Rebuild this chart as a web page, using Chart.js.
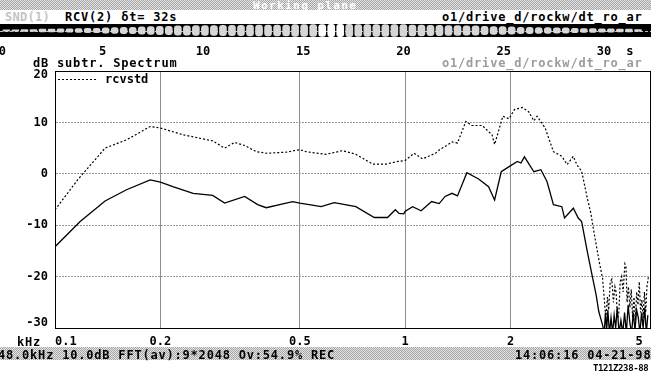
<!DOCTYPE html>
<html>
<head>
<meta charset="utf-8">
<script src="https://cdn.jsdelivr.net/npm/chart.js@4.4.1/dist/chart.umd.min.js"></script>
<style>
  html, body { margin: 0; padding: 0; background: #fff; }
  #page { position: relative; width: 651px; height: 374px; overflow: hidden; }
  canvas { position: absolute; left: 0; }
  .txt {
    position: absolute;
    font: bold 12px "DejaVu Sans Mono", monospace;
    line-height: 12px;
    letter-spacing: 0.8px;
    white-space: pre;
    color: #000;
  }
  .dither {
    position: absolute;
    left: 0;
    width: 651px;
    background: repeating-conic-gradient(#a4a4a4 0 25%, #e6e6e6 0 50%) 0 0 / 2px 2px;
  }
</style>
</head>
<body>
<div id="page">
  <div class="dither" style="top:0;height:10px"></div>
  <div class="txt" style="left:253px;top:0;font-size:11px;line-height:11px;letter-spacing:1.4px;color:#fff">Working plane</div>

  <div class="txt" style="left:5px;top:11px;color:#c4c4c4;letter-spacing:0.3px">SND(1)</div>
  <div class="txt" style="left:65px;top:11px">RCV(2) δt= 32s</div>
  <div class="txt" style="left:442px;top:11px">o1/drive_d/rockw/dt_ro_ar</div>

  <canvas id="wave" width="651" height="36" style="top:22px"></canvas>

  <div class="txt" style="left:33px;top:57px">dB subtr. Spectrum</div>
  <div class="txt" style="left:442px;top:57px;color:#9c9c9c">o1/drive_d/rockw/dt_ro_ar</div>

  <canvas id="spectrum" width="651" height="374" style="top:0"></canvas>

  <div class="txt" style="left:17px;top:336px">kHz</div>

  <div class="dither" style="top:347px;height:13px"></div>
  <div class="txt" style="left:-2px;top:349px">48.0kHz 10.0dB FFT(av):9*2048 Ov:54.9% REC</div>
  <div class="txt" style="left:515px;top:349px">14:06:16 04-21-98</div>
  <div class="txt" style="left:593px;top:364px;font-size:9px;line-height:9px;letter-spacing:-0.4px">T121Z238-88</div>
</div>

<script>
// spectrum, upper dotted curve (rcvstd)
const rcvFreq = [0.1, 0.116, 0.139, 0.16, 0.187, 0.2, 0.232, 0.282, 0.305, 0.326, 0.348, 0.376, 0.401, 0.457, 0.5, 0.521,
    0.595, 0.662, 0.723, 0.808, 0.883, 0.953, 1.0, 1.06, 1.12, 1.22, 1.26, 1.30, 1.36, 1.41, 1.49, 1.55, 1.66, 1.73, 1.77,
    1.80, 1.90, 1.98, 2.05, 2.16, 2.25, 2.33, 2.38, 2.51, 2.65, 2.80, 2.90, 3.02, 3.09, 3.19, 3.31, 3.39, 3.43, 3.51, 3.58,
    3.66, 3.74, 3.78, 3.81, 3.85, 3.89, 3.93, 3.97, 4.00, 4.04, 4.07, 4.11, 4.15, 4.19, 4.24, 4.27, 4.30, 4.34, 4.38,
    4.42, 4.46, 4.50, 4.54, 4.58, 4.62, 4.66, 4.70, 4.74, 4.78, 4.82, 4.86, 4.90, 4.95];
const rcvDb = [-7.0, -1.2, 5.0, 6.6, 9.2, 8.9, 7.6, 6.4, 5.0, 6.1, 5.5, 4.3, 4.0, 4.2, 4.7, 4.3,
    3.8, 4.5, 3.8, 1.9, 1.9, 2.4, 2.6, 4.0, 2.9, 4.0, 4.8, 5.3, 6.2, 6.0, 10.2, 9.4, 9.4, 8.2, 7.6,
    5.7, 11.2, 10.7, 12.5, 12.9, 12.1, 10.3, 11.2, 8.9, 4.3, 3.4, 1.8, 3.4, 1.8, 0.5, -4.7, -7.7, -9.9, -13.8, -17.1,
    -20.3, -28.1, -24.0, -26.5, -21.0, -20.5, -25.0, -22.0, -23.0, -28.0, -27.5, -21.0, -20.0, -23.0, -17.5, -18.0, -25.0, -22.0, -26.0,
    -22.5, -28.0, -24.0, -28.5, -23.0, -25.5, -21.0, -27.0, -24.5, -28.0, -23.0, -27.0, -22.0, -20.0];

// spectrum, lower solid curve (subtracted)
const subFreq = [0.1, 0.118, 0.139, 0.16, 0.187, 0.2, 0.217, 0.248, 0.282, 0.305, 0.348, 0.379, 0.401, 0.438, 0.477, 0.5,
    0.532, 0.575, 0.627, 0.723, 0.816, 0.89, 0.937, 0.96, 0.99, 1.0, 1.05, 1.11, 1.19, 1.25, 1.30, 1.36, 1.41, 1.50, 1.62,
    1.73, 1.80, 1.88, 1.98, 2.09, 2.14, 2.19, 2.33, 2.44, 2.54, 2.65, 2.80, 2.85, 3.02, 3.12, 3.19, 3.31, 3.43, 3.51, 3.57,
    3.66, 3.70, 3.73, 3.76, 3.79, 3.83, 3.87, 3.91, 3.95, 3.99, 4.03, 4.08, 4.13, 4.18, 4.23, 4.28, 4.33, 4.38, 4.43,
    4.48, 4.53, 4.58, 4.63, 4.68, 4.73, 4.78, 4.83, 4.88, 4.93];
const subDb = [-14.2, -9.3, -5.3, -3.1, -1.2, -1.6, -2.5, -3.8, -4.2, -5.7, -4.4, -6.0, -6.6, -6.0, -5.4, -5.7,
    -6.0, -6.4, -5.6, -6.4, -8.5, -8.5, -7.0, -7.7, -7.8, -7.3, -6.4, -7.2, -5.4, -5.8, -4.4, -3.8, -4.3, 0.2, -1.0,
    -2.5, -5.1, 0.4, 1.4, 2.4, 2.1, 3.3, 0.4, 0.8, -1.5, -6.0, -6.4, -8.6, -6.7, -8.6, -9.3, -15.1, -20.3, -23.6, -26.8,
    -29.4, -31, -27, -30.5, -26.5, -31, -28, -31, -27.5, -30, -26, -31, -28.5, -31, -27, -31, -25.5, -29, -31,
    -27, -30.5, -26.5, -28, -31, -27, -30, -26, -31, -27.5];

const freqTicks = [0.1, 0.2, 0.5, 1, 2, 5];
const dbTicks = [20, 10, 0, -10, -20, -30];

// time signal strip: burst centres (s) and envelope (relative)
const burstTimes = [0.2, 0.65, 1.1, 1.55, 2.0, 2.45, 2.9, 3.35, 3.8, 4.25, 4.7, 5.15, 5.6, 6.05, 6.5, 6.95, 7.4, 7.85,
    8.3, 8.75, 9.2, 9.65, 10.1, 10.55, 11.0, 11.45, 11.9, 12.35, 12.8, 13.25, 13.7, 14.15, 14.6, 15.05, 15.5, 15.95,
    16.4, 16.85, 17.3, 17.75, 18.2, 18.65, 19.1, 19.55, 20.0, 20.45, 20.9, 21.35, 21.8, 22.25, 22.7, 23.15, 23.6, 24.05,
    24.5, 24.95, 25.4, 25.85, 26.3, 26.75, 27.2, 27.65, 28.1, 28.55, 29.0, 29.45, 29.9, 30.35, 30.8, 31.25, 31.7];
const burstLevel = [0.12, 0.12, 0.15, 0.15, 0.2, 0.2, 0.25, 0.25, 0.3, 0.35,
    0.35, 0.4, 0.45, 0.5, 0.5, 0.55, 0.6, 0.65, 0.65, 0.7,
    0.7, 0.75, 0.75, 0.75, 0.8, 0.8, 0.8, 0.85, 0.85, 0.85,
    0.85, 0.85, 0.9, 0.9, 0.9, 0.9, 0.95, 0.95, 0.95, 0.9,
    0.9, 0.9, 0.9, 0.9, 0.9, 0.85, 0.85, 0.8, 0.8, 0.75,
    0.75, 0.7, 0.7, 0.65, 0.6, 0.6, 0.55, 0.5, 0.5, 0.45,
    0.45, 0.4, 0.4, 0.35, 0.3, 0.3, 0.25, 0.25, 0.2, 0.2,
    0.15];
const timeTicks = [0, 5, 10, 15, 20, 25, 30];
const timeUnitAt = 31.3;
const windowStart = 15.9;
const windowEnd = 16.9;

Chart.defaults.font.family = '"DejaVu Sans Mono", monospace';
Chart.defaults.font.weight = 'bold';
Chart.defaults.font.size = 12;
Chart.defaults.color = '#000';

const tickFont = { family: '"DejaVu Sans Mono", monospace', size: 12, weight: 'bold' };

// black band + centre line behind the bursts
const bandPlugin = {
    id: 'band',
    beforeDatasetsDraw: function (chart) {
        const a = chart.chartArea;
        const ctx = chart.ctx;
        ctx.save();
        ctx.fillStyle = '#000';
        ctx.fillRect(a.left, a.top, a.right - a.left, a.bottom - a.top);
        const y0 = Math.round(chart.scales.y.getPixelForValue(0)) + 0.5;
        ctx.strokeStyle = '#bdbdbd';
        ctx.lineWidth = 1;
        ctx.setLineDash([3, 2]);
        ctx.beginPath();
        ctx.moveTo(a.left, y0);
        ctx.lineTo(a.right, y0);
        ctx.stroke();
        ctx.restore();
    }
};

new Chart(document.getElementById('wave'), {
    type: 'bar',
    data: {
        datasets: [{
            data: burstTimes.map(function (t, i) { return { x: t, y: [-burstLevel[i], burstLevel[i]] }; }),
            backgroundColor: function (ctx) {
                const t = burstTimes[ctx.dataIndex];
                return t >= windowStart && t <= windowEnd ? '#ffffff' : '#d6d6d6';
            },
            barThickness: 7,
            borderRadius: 3,
            borderSkipped: false
        }]
    },
    options: {
        responsive: false,
        animation: false,
        events: [],
        layout: { padding: { top: 2, left: 0, right: 0, bottom: 0 } },
        plugins: { legend: { display: false }, tooltip: { enabled: false } },
        scales: {
            x: {
                type: 'linear',
                offset: false,
                min: -0.12,
                max: 32.35,
                afterBuildTicks: function (s) {
                    s.ticks = timeTicks.map(function (v) { return { value: v }; }).concat([{ value: timeUnitAt }]);
                },
                afterFit: function (s) { s.height = 21; s.paddingLeft = 0; s.paddingRight = 0; },
                ticks: {
                    padding: 8,
                    color: '#000',
                    font: tickFont,
                    maxRotation: 0,
                    autoSkip: false,
                    callback: function (v) { return v === timeUnitAt ? 's' : String(v); }
                },
                grid: { display: false, drawTicks: false },
                border: { display: false }
            },
            y: { display: false, min: -1, max: 1 }
        }
    },
    plugins: [bandPlugin]
});

// frame around the plot and the small in-plot legend
const framePlugin = {
    id: 'frame',
    afterDraw: function (chart) {
        const a = chart.chartArea;
        const ctx = chart.ctx;
        const l = Math.round(a.left), t = Math.round(a.top), r = Math.round(a.right), b = Math.round(a.bottom);
        ctx.save();
        ctx.strokeStyle = '#000';
        ctx.lineWidth = 1;
        ctx.strokeRect(l + 0.5, t + 0.5, r - l, b - t);
        ctx.restore();
    }
};

const insideLegend = {
    id: 'insideLegend',
    afterDatasetsDraw: function (chart) {
        const ds = chart.data.datasets[0];
        const a = chart.chartArea;
        const ctx = chart.ctx;
        ctx.save();
        ctx.strokeStyle = ds.borderColor;
        ctx.lineWidth = 1;
        ctx.setLineDash(ds.borderDash || []);
        ctx.beginPath();
        ctx.moveTo(a.left + 3, Math.round(a.top + 8) + 0.5);
        ctx.lineTo(a.left + 41, Math.round(a.top + 8) + 0.5);
        ctx.stroke();
        ctx.setLineDash([]);
        ctx.fillStyle = '#000';
        ctx.font = 'bold 12px "DejaVu Sans Mono", monospace';
        ctx.textBaseline = 'alphabetic';
        ctx.fillText(ds.label, a.left + 50, a.top + 12);
        ctx.restore();
    }
};

function innerOnly(values, color) {
    return function (ctx) {
        if (!ctx.tick) return 'rgba(0,0,0,0)';
        const v = ctx.tick.value;
        return v > Math.min.apply(null, values) && v < Math.max.apply(null, values) ? color : 'rgba(0,0,0,0)';
    };
}

const dbTop = Math.max.apply(null, dbTicks);
const dbBottom = Math.min.apply(null, dbTicks);
const freqTop = Math.max.apply(null, freqTicks);

new Chart(document.getElementById('spectrum'), {
    type: 'line',
    data: {
        datasets: [{
            label: 'rcvstd',
            data: rcvFreq.map(function (f, i) { return { x: f, y: rcvDb[i] }; }),
            borderColor: '#000',
            borderWidth: 1.2,
            borderDash: [2, 2],
            pointRadius: 0,
            tension: 0
        }, {
            label: 'subtr',
            data: subFreq.map(function (f, i) { return { x: f, y: subDb[i] }; }),
            borderColor: '#000',
            borderWidth: 1.3,
            pointRadius: 0,
            tension: 0
        }]
    },
    options: {
        responsive: false,
        animation: false,
        events: [],
        layout: { padding: { top: 71, right: 1, left: 0, bottom: 0 } },
        plugins: { legend: { display: false }, tooltip: { enabled: false } },
        scales: {
            x: {
                type: 'logarithmic',
                min: 0.1,
                max: 5,
                afterBuildTicks: function (s) {
                    s.ticks = freqTicks.map(function (v) { return { value: v }; });
                },
                afterFit: function (s) { s.height = 46; s.paddingLeft = 0; s.paddingRight = 0; },
                ticks: {
                    align: 'inner',
                    padding: 7,
                    color: '#000',
                    font: tickFont,
                    maxRotation: 0,
                    autoSkip: false,
                    // keep the last label a little inside the frame, as on the original screen
                    callback: function (v) { return v === freqTop ? String(v) + ' ' : String(v); }
                },
                grid: { drawTicks: false, lineWidth: 1, color: innerOnly(freqTicks, '#8c8c8c') },
                border: { color: '#000', width: 1 }
            },
            y: {
                min: -30,
                max: 20,
                afterBuildTicks: function (s) {
                    s.ticks = dbTicks.map(function (v) { return { value: v }; });
                },
                afterFit: function (s) { s.width = 55; },
                ticks: {
                    padding: 7,
                    color: '#000',
                    // top and bottom labels sit just inside the frame
                    font: function (ctx) {
                        const v = ctx.tick ? ctx.tick.value : null;
                        if (v === dbTop) return Object.assign({}, tickFont, { lineHeight: '8px' });
                        if (v === dbBottom) return Object.assign({}, tickFont, { lineHeight: '10px' });
                        return tickFont;
                    },
                    callback: function (v) {
                        if (v === dbTop) return ['', String(v)];
                        if (v === dbBottom) return [String(v), ''];
                        return String(v);
                    }
                },
                grid: { drawTicks: false, lineWidth: 1, color: innerOnly(dbTicks, '#9a9a9a') },
                border: { color: '#000', width: 1, dash: [2, 1] }
            }
        }
    },
    plugins: [framePlugin, insideLegend]
});
</script>
</body>
</html>
